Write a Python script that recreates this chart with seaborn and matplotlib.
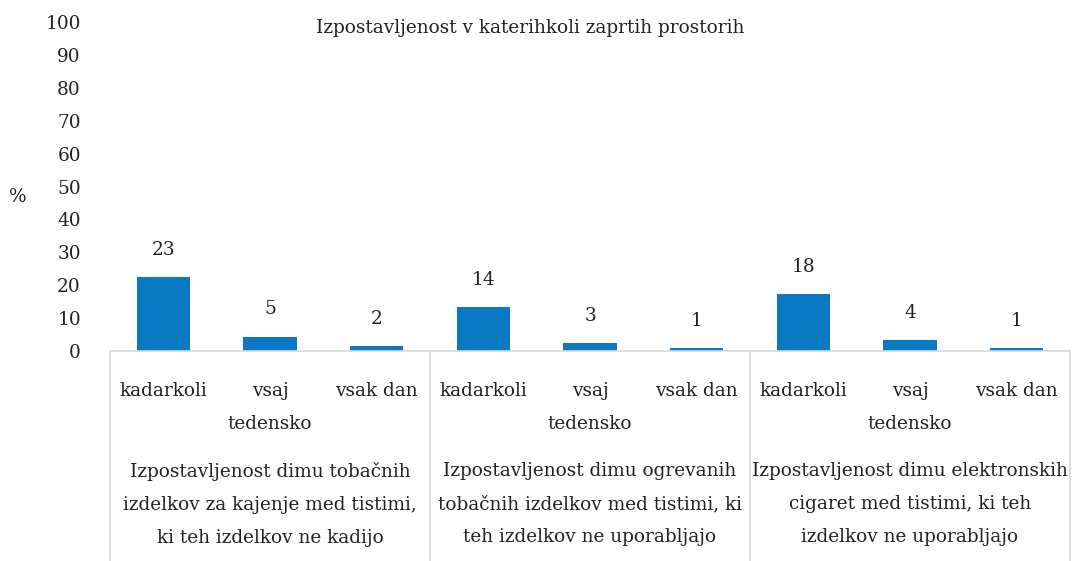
import matplotlib
matplotlib.use("Agg")
import matplotlib.pyplot as plt
import matplotlib.transforms as mtransforms
import pandas as pd
import seaborn as sns

title = "Izpostavljenost v katerihkoli zaprtih prostorih"
groups = [
    "Izpostavljenost dimu tobačnih\nizdelkov za kajenje med tistimi,\nki teh izdelkov ne kadijo",
    "Izpostavljenost dimu ogrevanih\ntobačnih izdelkov med tistimi, ki\nteh izdelkov ne uporabljajo",
    "Izpostavljenost dimu elektronskih\ncigaret med tistimi, ki teh\nizdelkov ne uporabljajo",
]
frequencies = ["kadarkoli", "vsaj\ntedensko", "vsak dan"]
heights = [22.4, 4.4, 1.4, 13.4, 2.4, 0.8, 17.4, 3.4, 0.8]
value_labels = ["23", "5", "2", "14", "3", "1", "18", "4", "1"]
y_ticks = list(range(0, 101, 10))

BAR_COLOR = "#0a79c3"
LINE_COLOR = "#d9d9d9"
TEXT_COLOR = "#222222"

sns.set_style("white")
plt.rcParams["font.family"] = ["DejaVu Serif"]
FS = 13.3

df = pd.DataFrame({
    "slot": list(range(len(heights))),
    "value": heights,
})

fig = plt.figure(figsize=(10.72, 5.61), dpi=100)
ax = fig.add_axes([110 / 1072, (561 - 351) / 561, 960 / 1072, 329 / 561])

sns.barplot(data=df, x="slot", y="value", color=BAR_COLOR, width=0.5,
            saturation=1, linewidth=0, ax=ax)

ax.set_xlim(-0.5, len(heights) - 0.5)
ax.set_ylim(0, 100)
ax.set_yticks(y_ticks)
ax.set_yticklabels([str(t) for t in y_ticks], fontsize=FS, color=TEXT_COLOR)
ax.tick_params(axis="y", length=0, pad=21)

tick_labels = frequencies * len(groups)
ax.set_xticks(range(len(tick_labels)))
ax.set_xticklabels(tick_labels, fontsize=FS, color=TEXT_COLOR, linespacing=2.12,
                   va="top")
ax.tick_params(axis="x", length=0, pad=22)
ax.set_xlabel("")
ax.set_ylabel("")

for s in ["top", "right", "left"]:
    ax.spines[s].set_visible(False)
ax.spines["bottom"].set_color(LINE_COLOR)
ax.spines["bottom"].set_linewidth(1.2)

# value labels above bars
for i, (h, lab) in enumerate(zip(heights, value_labels)):
    ax.annotate(lab, (i, h), xytext=(0, 13), textcoords="offset points",
                ha="center", va="bottom", fontsize=FS, color=TEXT_COLOR)

# group boxes and group labels below the axis
trans = mtransforms.blended_transform_factory(ax.transData, ax.transAxes)
n = len(frequencies)
for k in range(len(groups) + 1):
    x = k * n - 0.5
    ax.plot([x, x], [0, -0.66], transform=trans, color=LINE_COLOR,
            lw=1.2, clip_on=False)
for k, g in enumerate(groups):
    ax.text(k * n + 1, -0.338, g, transform=trans, ha="center", va="top",
            fontsize=FS, color=TEXT_COLOR, linespacing=2.08)

fig.text(530 / 1072, 1 - 28 / 561, title, ha="center", va="center",
         fontsize=FS, color=TEXT_COLOR)
fig.text(18 / 1072, 1 - 197 / 561, "%", ha="center", va="center",
         fontsize=FS, color=TEXT_COLOR)

fig.savefig("out.png", dpi=100)
